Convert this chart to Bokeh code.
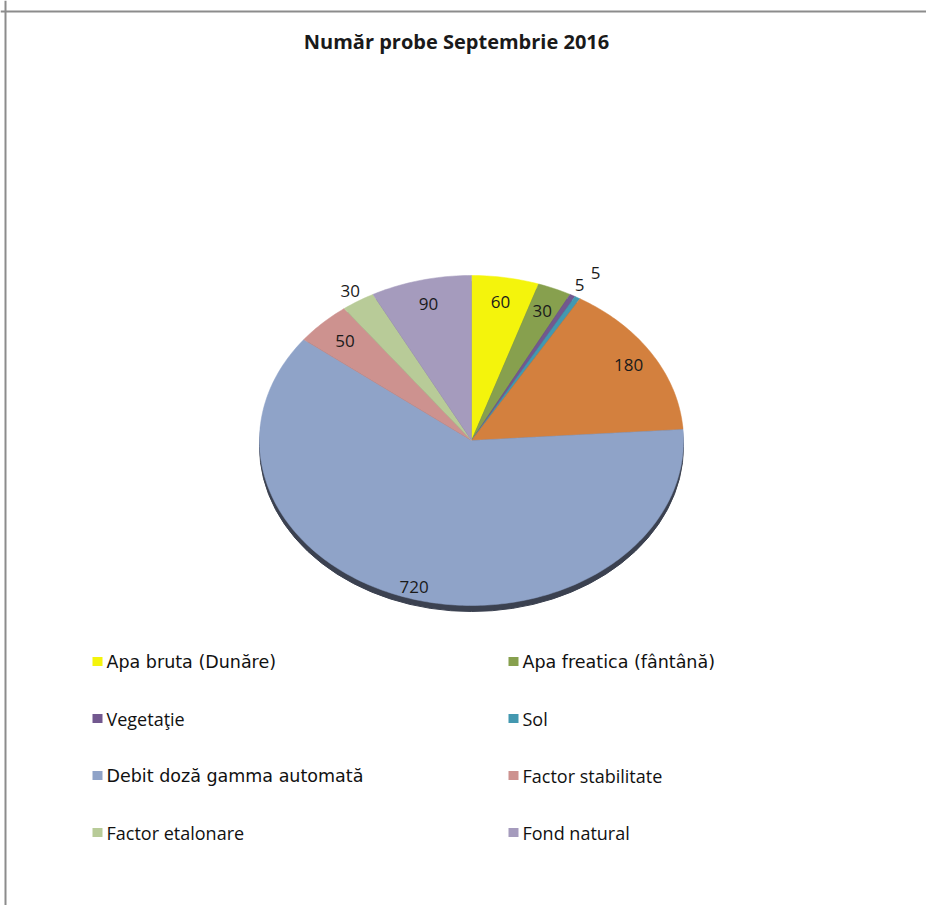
import numpy as np
from bokeh.plotting import figure
from bokeh.models import Span, ColumnDataSource
from bokeh.core.properties import value
from bokeh.embed import file_html
from bokeh.resources import INLINE

# ---- data ----
title_text = "Număr probe Septembrie 2016"
categories = ["Apa bruta (Dunăre)", "Apa freatica (fântână)", "Vegetaţie", "Sol", "Aer",
              "Debit doză gamma automată", "Factor stabilitate", "Factor etalonare", "Fond natural"]
values = [60, 30, 5, 5, 180, 720, 50, 30, 90]
in_legend = [True, True, True, True, False, True, True, True, True]

# ---- styles ----
colors = ["#F4F40C", "#87A04E", "#72588F", "#4398B0", "#D3803E",
          "#8FA3C8", "#CD928F", "#B8CB98", "#A59BBD"]
label_r = [0.85, 0.85, 1.07, 1.17, 0.87, 0.93, 0.85, 1.07, 0.85]
legend_fonts = ["DejaVu Sans", "DejaVu Sans", "Open Sans", "Open Sans", "Open Sans",
                "DejaVu Sans", "Open Sans", "Open Sans", "Open Sans"]
legend_sizes = ["17.5px", "17.5px", "18px", "18px", "18px", "17.5px", "18px", "18px", "18px"]

W, H = 926, 905
cx, cy = 471, H - 440
rx, ry = 212, 165

p = figure(width=W, height=H, x_range=(0, W), y_range=(0, H),
           output_backend="svg", toolbar_location=None, min_border=0)
p.axis.visible = False
p.grid.visible = False
p.outline_line_color = None
p.background_fill_color = "white"

# frame lines (top and left)
p.add_layout(Span(location=H - 11, dimension="width", line_color="#8c8c8c", line_width=2))
p.add_layout(Span(location=5, dimension="height", line_color="#8c8c8c", line_width=2))

# title
p.text(x=[456], y=[H - 41], text=[title_text], text_font=value("Open Sans"),
       text_font_size="20px", text_font_style="bold", text_align="center",
       text_baseline="middle", text_color="#1a1a1a")

# shadow
p.ellipse(x=[cx], y=[cy - 6], width=[2 * rx], height=[2 * ry], color="#3b4150")

# slices
vals = np.array(values, dtype=float)
total = vals.sum()
ends = np.cumsum(vals) / total * 2 * np.pi
starts = ends - vals / total * 2 * np.pi
xs, ys = [], []
lx, ly = [], []
for a0, a1, r in zip(starts, ends, label_r):
    t = np.linspace(a0, a1, max(4, int((a1 - a0) * 60)))
    xs.append(np.concatenate([[cx], cx + rx * np.sin(t)]))
    ys.append(np.concatenate([[cy], cy + ry * np.cos(t)]))
    m = (a0 + a1) / 2
    lx.append(cx + r * rx * np.sin(m))
    ly.append(cy + r * ry * np.cos(m))
p.patches(xs=xs, ys=ys, fill_color=colors, line_color=colors, line_width=0.5)

# data labels
p.text(x=lx, y=ly, text=[str(v) for v in values], text_font=value("Open Sans"),
       text_font_size="17px", text_align="center", text_baseline="middle",
       text_color="#1a1a1a")

# legend (two columns)
idx = [i for i, f in enumerate(in_legend) if f]
mx, my, tx, lab, lf, ls, lc = [], [], [], [], [], [], []
for k, i in enumerate(idx):
    row, col = divmod(k, 2)
    mx.append(97 + col * 416)
    tx.append(106 + col * 416)
    my.append(H - 661 - row * 57)
    lab.append(categories[i])
    lf.append(legend_fonts[i])
    ls.append(legend_sizes[i])
    lc.append(colors[i])
src = ColumnDataSource(dict(mx=mx, my=my, tx=tx, lab=lab, font=lf, size=ls, col=lc))
p.rect(x="mx", y="my", width=10, height=9, fill_color="col", line_color=None, source=src)
p.text(x="tx", y="my", text="lab", text_font="font", text_font_size="size",
       text_baseline="middle", text_color="#111111", source=src)

open("out.html", "w").write(file_html(p, INLINE))
